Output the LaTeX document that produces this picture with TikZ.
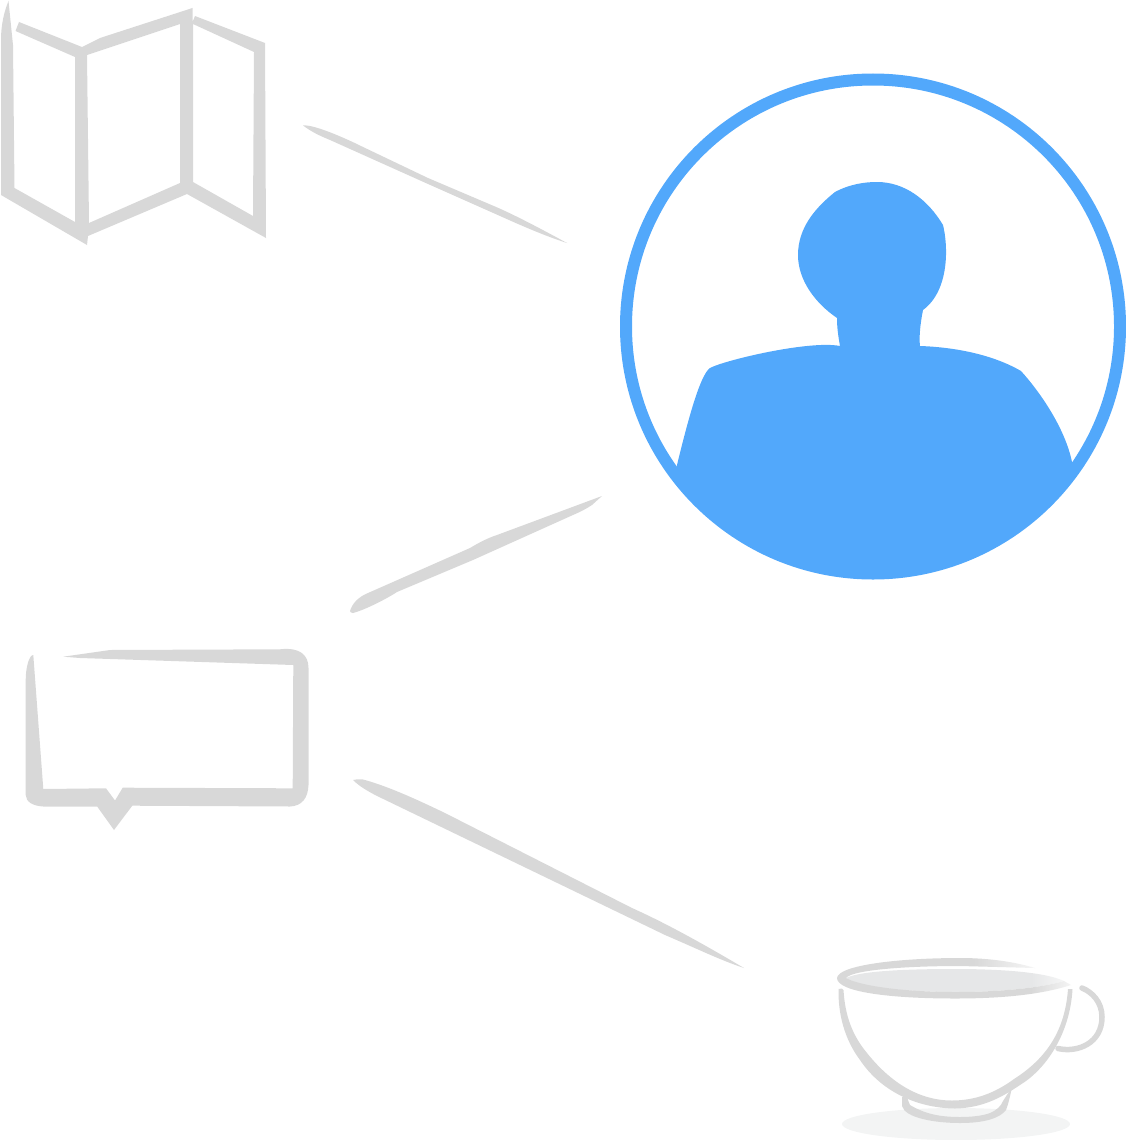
\documentclass[tikz,border=0pt]{standalone}
\usepackage{tikz}
\usetikzlibrary{fadings}
\definecolor{brushgray}{HTML}{D8D8D8}
\definecolor{mugfill}{HTML}{E6E7E8}
\definecolor{shadowgray}{HTML}{F3F4F4}
\definecolor{userblue}{HTML}{52A8FB}

\begin{document}
\begin{tikzpicture}[
  x=1pt, y=-1pt,
  brush/.style={fill=brushgray, draw=none},
  brushline/.style={draw=brushgray, line width=5.5pt, line cap=round},
  person/.style={fill=userblue, draw=none},
  ring/.style={draw=userblue, line width=12pt}
]
\useasboundingbox (0,0) rectangle (1126,1140);

% folded map
\fill[brush, even odd rule] (8.5,1) -- (13,45) -- (14.5,188) -- (75,222) -- (75,57) -- (15.5,31) -- (19,22) -- (82,47)
  .. controls (88,44) and (94,41) .. (100,38) -- (192.5,8) -- (192.5,22) -- (195,16) -- (265,43) -- (266,238)
  -- (187,194) -- (88,236) -- (87,245) -- (1,195) -- (1,40) .. controls (1,25) and (4,12) .. (8.5,1) -- cycle
  (87,55) -- (180,24) -- (180,183) -- (89,223) -- cycle
  (193,24) -- (254,52) -- (253,216) -- (193,182) -- cycle;

% speech bubble
\fill[brush] (33.3,655) -- (43.3,789) -- (106,788.3) -- (115,800.5) -- (122.7,787.7) -- (292.7,788.3) -- (293.3,665)
  -- (80,658) -- (63.3,656.7) -- (110,650) -- (280,649.3) .. controls (300,647) and (308.5,655) .. (308.5,668)
  -- (308.5,785) .. controls (308,798) and (302,806) .. (290,806.5) -- (132.3,805.7) -- (114,830) -- (97.3,806.7)
  -- (43.3,806.5) .. controls (33,806) and (26,802) .. (25.7,795) -- (25.7,680)
  .. controls (25.7,668) and (29,655) .. (33.3,655) -- cycle;

% brush strokes
\fill[brush] (303,125.5) .. controls (313,124) and (345,138) .. (362,146.5) -- (428,178) -- (495,206.5)
  .. controls (515,215) and (545,231) .. (567,243) .. controls (545,236) and (520,225) .. (500,216) -- (428,184)
  -- (330,140) .. controls (318,135) and (312,132) .. (303,125.5) -- cycle;
\fill[brush] (602,496) -- (592,505) .. controls (586,509) and (580,512) .. (573,515) -- (473,560) -- (397,592)
  .. controls (388,598) and (365,610) .. (353,613) .. controls (351,613) and (350,612) .. (350,611)
  .. controls (352,604) and (358,597) .. (368,593) -- (470,548) .. controls (480,542) and (488,538) .. (497,535) -- cycle;
\fill[brush] (353,780) .. controls (358,779) and (362,779) .. (365,780) .. controls (390,787) and (420,801) .. (445,813)
  -- (632,908) .. controls (670,925) and (710,948) .. (744,968) .. controls (720,960) and (700,950) .. (665,935)
  -- (375,795) .. controls (368,791) and (360,787) .. (353,780) -- cycle;

% user
\begin{scope}
  \clip (873,326.5) circle (247pt);
  \fill[person] (835,192) .. controls (850,184) and (865,182) .. (877,182) .. controls (905,182) and (928,200) .. (943,225)
    .. controls (948,245) and (950,290) .. (923,310) .. controls (920,325) and (919,338) .. (920,346)
    .. controls (950,347) and (990,353) .. (1021,371) .. controls (1040,392) and (1065,428) .. (1072,462)
    -- (1080,600) -- (670,600) -- (677,465) .. controls (688,420) and (700,375) .. (710,368)
    .. controls (725,360) and (810,340) .. (840,346) .. controls (838,335) and (837,327) .. (837,318)
    .. controls (815,303) and (798,280) .. (798,255) .. controls (798,228) and (815,208) .. (835,192) -- cycle;
\end{scope}
\draw[ring] (873,326.5) circle (247pt);

% cup
\fill[shadowgray] (956,1124) ellipse (114pt and 16pt);
\fill[mugfill] (846,978) .. controls (860,971) and (905,969) .. (955,969) .. controls (1000,969) and (1045,972) .. (1064,981)
  .. controls (1040,988) and (1000,992) .. (955,992) .. controls (905,992) and (860,987) .. (846,978) -- cycle;
\fill[brush] (837,978) .. controls (838,965) and (900,958) .. (960,958) .. controls (990,958) and (1015,962) .. (1035,968)
  -- (960,966) .. controls (905,966) and (852,970) .. (846,978) .. controls (860,986) and (905,992) .. (955,992)
  .. controls (1000,992) and (1040,988) .. (1064,981) -- (1071,985) .. controls (1040,995) and (1000,998.5) .. (955,998.5)
  .. controls (890,998.5) and (837,992) .. (837,978) -- cycle;
\fill[white, path fading=west] (973,955) rectangle (1053,968);
\fill[white, path fading=west] (1030,972) rectangle (1085,995);
\fill[brush] (902,1097) -- (907,1097) .. controls (908,1100) and (909,1103) .. (910,1105) .. controls (925,1114) and (940,1117) .. (960,1117)
  .. controls (975,1117) and (985,1115) .. (990,1113) .. controls (997,1110) and (1001,1106) .. (1003,1101) -- (1012,1087)
  .. controls (1010,1097) and (1008,1105) .. (1006,1110) .. controls (1000,1118) and (985,1123) .. (960,1123)
  .. controls (935,1123) and (905,1118) .. (902,1106) -- cycle;
\fill[brush] (838.5,989) -- (842,988.5) -- (843.5,990) .. controls (845,1015) and (852,1035) .. (867,1053)
  .. controls (887,1078) and (915,1100.5) .. (952,1100.5) .. controls (975,1100.5) and (995,1093) .. (1014,1079)
  .. controls (1047,1058) and (1065,1030) .. (1068,989) -- (1072.5,989) .. controls (1070,1035) and (1045,1070) .. (1020,1085)
  .. controls (1005,1095) and (985,1108) .. (955,1108.5) .. controls (915,1108) and (880,1090) .. (860,1060)
  .. controls (845,1040) and (838,1015) .. (838.5,989) -- cycle;
\draw[brushline] (1058,1048.5) .. controls (1078,1053) and (1102,1043) .. (1102,1017) .. controls (1102,1002) and (1092,992) .. (1082,988);
\end{tikzpicture}
\end{document}
